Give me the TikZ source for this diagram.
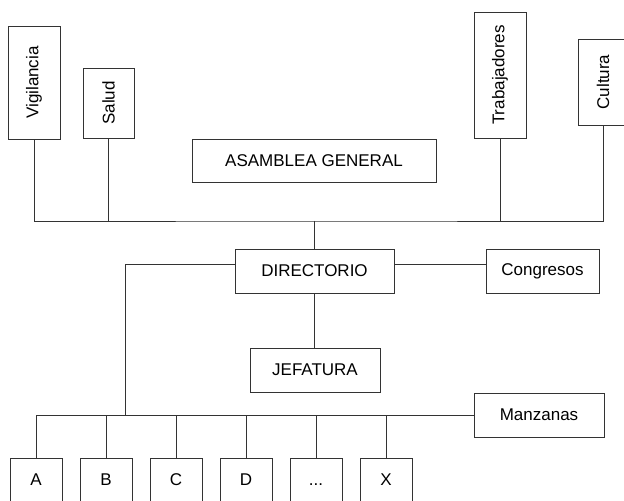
\documentclass[tikz,border=0pt]{standalone}
\usepackage{fontspec}
\setmainfont{Liberation Sans}
\usepackage{graphicx}
\usetikzlibrary{positioning}

\tikzset{
  box/.style={draw=black!80, line width=0.8bp, inner sep=0pt, minimum height=44bp,
    font=\fontsize{17bp}{20bp}\selectfont},
  link/.style={draw=black!80, line width=0.8bp},
}

\begin{document}
\begin{tikzpicture}[x=1bp, y=-1bp]
  \useasboundingbox (0,0) rectangle (624,501);
  % comitati in alto (testo verticale)
  \node[box, minimum width=52bp, minimum height=113bp] (vig) at (34,82.5) {\rotatebox{90}{Vigilancia}};
  \node[box, minimum width=51bp, minimum height=70bp] (sal) at (108.5,103) {\rotatebox{90}{Salud}};
  \node[box, minimum width=52bp, minimum height=126bp] (trab) at (500,75) {\rotatebox{90}{Trabajadores}};
  \node[box, minimum width=50bp, minimum height=86bp] (cult) at (603,82) {\rotatebox{90}{Cultura}};
  \node[box, minimum width=244bp, minimum height=43bp] (asam) at (314,160.5) {ASAMBLEA GENERAL};
  \coordinate (nodo) at (314,221); % punto della linea comune

  % livello centrale
  \node[box, minimum width=159bp] (dir) at (314.5,271) {DIRECTORIO};
  \node[box, minimum width=113bp] (cong) at (542.5,271) {Congresos};
  \node[box, minimum width=130bp] (jef) at (315,370) {JEFATURA};
  \node[box, minimum width=130bp] (manz) at (539,415) {Manzanas};
  \coordinate (giu) at (125,415); % incrocio con la linea delle manzane

  % manzane in basso
  \node[box, minimum width=52bp] (a) at (36,480) {A};
  \node[box, minimum width=52bp, right=17.2bp of a] (b) {B};
  \node[box, minimum width=52bp, right=17.2bp of b] (c) {C};
  \node[box, minimum width=52bp, right=17.2bp of c] (d) {D};
  \node[box, minimum width=52bp, right=17.2bp of d] (p) {\vphantom{A}...};
  \node[box, minimum width=52bp, right=17.2bp of p] (x) {X};

  % collegamenti
  \draw[link] (vig.south) |- (nodo) -| (cult.south);
  \draw[link] (sal.south) -- (sal.south |- nodo);
  \draw[link] (trab.south) -- (trab.south |- nodo);
  \draw[link] (nodo) -- (nodo |- dir.north);
  \draw[link] ([yshift=7bp]dir.west) -| (giu);
  \draw[link] ([yshift=7bp]dir.east) -- ([yshift=7bp]dir.east -| cong.west);
  \draw[link] (dir.south) -- (dir.south |- jef.north);
  \draw[link] (a.north) |- (manz.west);
  \foreach \n in {b,c,d,p,x}
    \draw[link] (\n.north) -- (\n.north |- manz.west);
\end{tikzpicture}
\end{document}
